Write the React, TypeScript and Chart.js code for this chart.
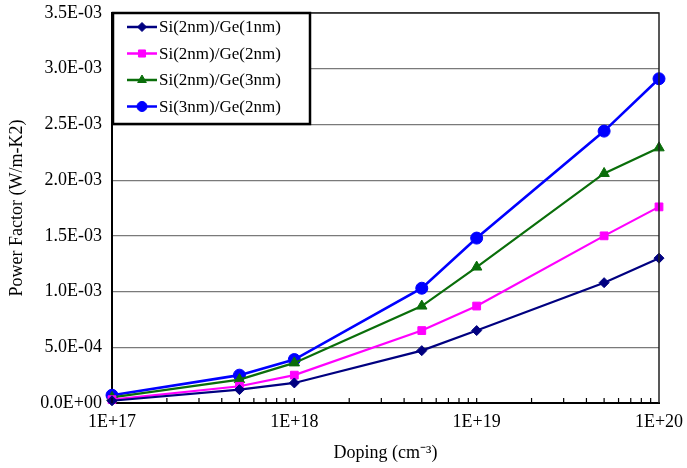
import React, { useEffect, useRef } from "react";
import { Chart, registerables } from "chart.js";
import { drawPoint } from "chart.js/helpers";

Chart.register(...registerables);

const doping = [1e17, 5e17, 1e18, 5e18, 1e19, 5e19, 1e20];
const si2ge1 = [2.0e-5, 1.2e-4, 1.8e-4, 4.7e-4, 6.5e-4, 1.08e-3, 1.3e-3];
const si2ge2 = [3.0e-5, 1.5e-4, 2.5e-4, 6.5e-4, 8.7e-4, 1.5e-3, 1.76e-3];
const si2ge3 = [5.0e-5, 2.1e-4, 3.6e-4, 8.7e-4, 1.22e-3, 2.06e-3, 2.29e-3];
const si3ge2 = [7.0e-5, 2.5e-4, 3.9e-4, 1.03e-3, 1.48e-3, 2.44e-3, 2.91e-3];
const seriesLabels = ["Si(2nm)/Ge(1nm)", "Si(2nm)/Ge(2nm)", "Si(2nm)/Ge(3nm)", "Si(3nm)/Ge(2nm)"];
const xTickValues = [1e17, 1e18, 1e19, 1e20];
const xTickLabels = ["1E+17", "1E+18", "1E+19", "1E+20"];

const FONT = "'Liberation Serif', 'Times New Roman', serif";

function fmtY(v: number): string {
  if (Math.abs(v) < 1e-12) return "0.0E+00";
  const e = Math.floor(Math.log10(Math.abs(v)) + 1e-9);
  const m = v / Math.pow(10, e);
  const sign = e < 0 ? "-" : "+";
  const ea = Math.abs(e);
  return m.toFixed(1) + "E" + sign + (ea < 10 ? "0" + ea : String(ea));
}

const frameAndTicks = {
  id: "frameAndTicks",
  afterDatasetsDraw(chart: any) {
    const { ctx, chartArea } = chart;
    const xs = chart.scales.x;
    ctx.save();
    ctx.strokeStyle = "#222";
    ctx.lineWidth = 1.5;
    ctx.beginPath();
    ctx.moveTo(chartArea.left, chartArea.top);
    ctx.lineTo(chartArea.right, chartArea.top);
    ctx.lineTo(chartArea.right, chartArea.bottom);
    ctx.stroke();
    ctx.strokeStyle = "#000";
    ctx.lineWidth = 1.2;
    ctx.beginPath();
    for (let d = 17; d < 20; d++) {
      for (let k = 1; k <= 9; k++) {
        const v = k * Math.pow(10, d);
        const px = xs.getPixelForValue(v);
        ctx.moveTo(px, chartArea.bottom);
        ctx.lineTo(px, chartArea.bottom - 5);
      }
    }
    ctx.stroke();
    ctx.restore();
  },
  afterDraw(chart: any) {
    const { ctx, chartArea } = chart;
    const left = chartArea.left + 1;
    const top = chartArea.top;
    const w = 197;
    const h = 111;
    ctx.save();
    ctx.fillStyle = "#fff";
    ctx.fillRect(left, top, w, h);
    ctx.strokeStyle = "#000";
    ctx.lineWidth = 2.5;
    ctx.strokeRect(left, top, w, h);
    chart.data.datasets.forEach((ds: any, i: number) => {
      const y = top + 14 + i * 26.5;
      ctx.strokeStyle = ds.borderColor;
      ctx.lineWidth = 2.5;
      ctx.beginPath();
      ctx.moveTo(left + 14, y);
      ctx.lineTo(left + 44, y);
      ctx.stroke();
      ctx.fillStyle = ds.pointBackgroundColor;
      ctx.strokeStyle = ds.pointBorderColor;
      ctx.lineWidth = 1;
      drawPoint(ctx, { pointStyle: ds.pointStyle, radius: ds.legendRadius, rotation: 0, borderWidth: 1 }, left + 29, y);
      ctx.fillStyle = "#000";
      ctx.font = "17px " + FONT;
      ctx.textBaseline = "middle";
      ctx.textAlign = "left";
      ctx.fillText(ds.label, left + 46, y + 1);
    });
    ctx.restore();
  },
};

export default function App() {
  const ref = useRef<HTMLCanvasElement | null>(null);
  useEffect(() => {
    if (!ref.current) return;
    const mk = (label: string, ys: number[], color: string, style: string, r: number, lr: number, bw: number) => ({
      label,
      data: doping.map((x, i) => ({ x, y: ys[i] })),
      borderColor: color,
      backgroundColor: color,
      pointBackgroundColor: color,
      pointBorderColor: color,
      pointStyle: style,
      pointRadius: r,
      legendRadius: lr,
      borderWidth: bw,
      pointBorderWidth: 1,
      tension: 0,
      clip: false as any,
    });
    const chart = new Chart(ref.current, {
      type: "line",
      data: {
        datasets: [
          mk(seriesLabels[0], si2ge1, "#000080", "rectRot", 5, 4.5, 2.2),
          mk(seriesLabels[1], si2ge2, "#FF00FF", "rect", 5.5, 5, 2.2),
          mk(seriesLabels[2], si2ge3, "#0A6E0A", "triangle", 6, 5, 2.2),
          mk(seriesLabels[3], si3ge2, "#0000FF", "circle", 6, 5, 2.6),
        ] as any,
      },
      plugins: [frameAndTicks],
      options: {
        animation: false,
        responsive: false,
        maintainAspectRatio: false,
        layout: { padding: { top: 13, right: 28, left: 0, bottom: 0 } },
        plugins: { legend: { display: false }, tooltip: { enabled: false } },
        scales: {
          x: {
            type: "logarithmic",
            min: 1e17,
            max: 1e20,
            afterBuildTicks: (s: any) => {
              s.ticks = xTickValues.map((v) => ({ value: v }));
            },
            afterFit: (s: any) => {
              s.height = 65;
              s.paddingRight = 0;
              s.paddingLeft = 0;
            },
            ticks: {
              autoSkip: false,
              maxRotation: 0,
              padding: 8,
              color: "#000",
              font: { family: FONT, size: 18 },
              callback: (v: any) => {
                const i = xTickValues.findIndex((t) => Math.abs(t - Number(v)) / t < 1e-6);
                return i >= 0 ? xTickLabels[i] : "";
              },
            },
            grid: { display: false, drawTicks: false },
            border: { display: true, color: "#000", width: 2 },
            title: {
              display: true,
              text: "Doping (cm⁻³)",
              color: "#000",
              font: { family: FONT, size: 18 },
              padding: { top: 0, bottom: 4 },
            },
          },
          y: {
            type: "linear",
            min: 0,
            max: 0.0035,
            afterFit: (s: any) => {
              s.width = 112;
              s.paddingTop = 0;
              s.paddingBottom = 0;
            },
            ticks: {
              stepSize: 0.0005,
              padding: 10,
              color: "#000",
              font: { family: FONT, size: 18 },
              callback: (v: any) => fmtY(Number(v)),
            },
            grid: { color: "#7a7a7a", lineWidth: 1.2, drawTicks: false },
            border: { display: true, color: "#000", width: 2 },
            title: {
              display: true,
              text: "Power Factor (W/m-K2)",
              color: "#000",
              font: { family: FONT, size: 18 },
              padding: { top: 6, bottom: 0 },
            },
          },
        },
      } as any,
    });
    return () => chart.destroy();
  }, []);
  return (
    <div style={{ position: "fixed", left: 0, top: 0, width: 687, height: 468, background: "#fff" }}>
      <canvas ref={ref} width={687} height={468} style={{ width: 687, height: 468, display: "block" }} />
    </div>
  );
}
